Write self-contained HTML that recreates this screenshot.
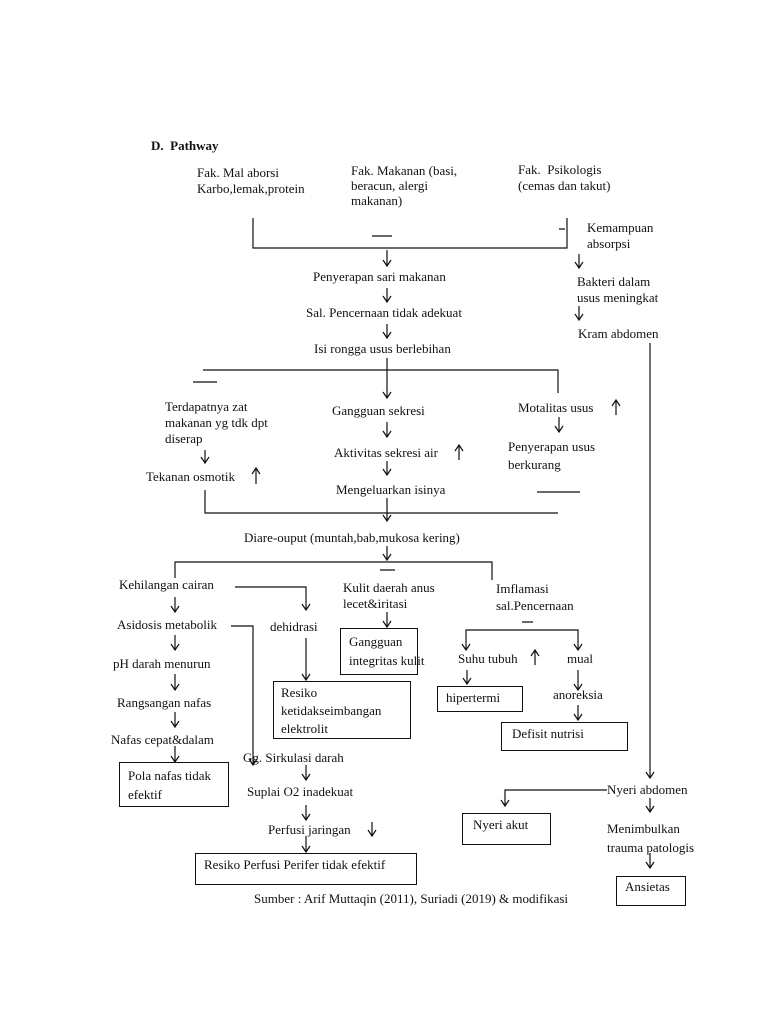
<!DOCTYPE html>
<html><head><meta charset="utf-8"><style>
body{margin:0;background:#fff;}
#c{position:relative;width:768px;height:1024px;overflow:hidden;font-family:"Liberation Serif",serif;font-size:13px;color:#111;}
.t{position:absolute;line-height:16px;white-space:nowrap;}
.b{position:absolute;border:1px solid #111;box-sizing:border-box;}
svg{position:absolute;left:0;top:0;}
</style></head><body><div id="c">
<svg width="768" height="1024" fill="none" stroke="#111" stroke-width="1.2">
<!-- top bracket -->
<path d="M253 218V248H567V218 M559 229H565 M372 236H392"/>
<path d="M387 250V266 M383 260L387 266L391 260"/>
<path d="M579 254V268 M575 262L579 268L583 262"/>
<path d="M579 306V320 M575 314L579 320L583 314"/>
<path d="M387 288V302 M383 296L387 302L391 296"/>
<path d="M387 324V338 M383 332L387 338L391 332"/>
<!-- second bracket -->
<path d="M203 370H558V393 M387 358V398 M383 392L387 398L391 392 M193 382H217"/>
<path d="M205 450V463 M201 457L205 463L209 457"/>
<path d="M256 484V468 M252 474L256 468L260 474"/>
<path d="M387 422V437 M383 431L387 437L391 431"/>
<path d="M459 460V445 M455 451L459 445L463 451"/>
<path d="M387 461V475 M383 469L387 475L391 469"/>
<path d="M616 415V400 M612 406L616 400L620 406"/>
<path d="M559 417V432 M555 426L559 432L563 426"/>
<path d="M537 492H580"/>
<path d="M205 490V513H558 M387 498V521 M383 515L387 521L391 515"/>
<!-- right long line -->
<path d="M650 343V778 M646 772L650 778L654 772"/>
<path d="M387 546V560 M383 554L387 560L391 554"/>
<path d="M175 578V562H492V580 M380 570H395"/>
<path d="M175 597V612 M171 606L175 612L179 606"/>
<path d="M235 587H306V610 M302 604L306 610L310 604"/>
<path d="M231 626H253V765 M249 759L253 765L257 759"/>
<path d="M175 635V650 M171 644L175 650L179 644"/>
<path d="M175 674V690 M171 684L175 690L179 684"/>
<path d="M175 712V727 M171 721L175 727L179 721"/>
<path d="M175 746V762 M171 756L175 762L179 756"/>
<path d="M306 638V680 M302 674L306 680L310 674"/>
<path d="M387 612V627 M383 621L387 627L391 621"/>
<path d="M522 622H533 M466 650V630H578V650 M462 644L466 650L470 644 M574 644L578 650L582 644"/>
<path d="M535 665V650 M531 656L535 650L539 656"/>
<path d="M467 670V684 M463 678L467 684L471 678"/>
<path d="M578 670V690 M574 684L578 690L582 684"/>
<path d="M578 705V720 M574 714L578 720L582 714"/>
<path d="M306 765V780 M302 774L306 780L310 774"/>
<path d="M306 805V820 M302 814L306 820L310 814"/>
<path d="M372 822V836 M368 830L372 836L376 830"/>
<path d="M306 836V852 M302 846L306 852L310 846"/>
<path d="M607 790H505V806 M501 800L505 806L509 800"/>
<path d="M650 798V812 M646 806L650 812L654 806"/>
<path d="M650 853V868 M646 862L650 868L654 862"/>
</svg>
<div class="t" style="left:151px;top:138px;font-weight:bold;">D.&nbsp; Pathway</div>
<div class="t" style="left:197px;top:165px;">Fak. Mal aborsi<br>Karbo,lemak,protein</div>
<div class="t" style="left:351px;top:163px;line-height:15px;">Fak. Makanan (basi,<br>beracun, alergi<br>makanan)</div>
<div class="t" style="left:518px;top:162px;">Fak.&nbsp; Psikologis<br>(cemas dan takut)</div>
<div class="t" style="left:587px;top:220px;">Kemampuan<br>absorpsi</div>
<div class="t" style="left:577px;top:274px;">Bakteri dalam<br>usus meningkat</div>
<div class="t" style="left:578px;top:326px;">Kram abdomen</div>
<div class="t" style="left:313px;top:269px;">Penyerapan sari makanan</div>
<div class="t" style="left:306px;top:305px;">Sal. Pencernaan tidak adekuat</div>
<div class="t" style="left:314px;top:341px;">Isi rongga usus berlebihan</div>
<div class="t" style="left:165px;top:399px;">Terdapatnya zat<br>makanan yg tdk dpt<br>diserap</div>
<div class="t" style="left:146px;top:469px;">Tekanan osmotik</div>
<div class="t" style="left:332px;top:403px;">Gangguan sekresi</div>
<div class="t" style="left:334px;top:445px;">Aktivitas sekresi air</div>
<div class="t" style="left:336px;top:482px;">Mengeluarkan isinya</div>
<div class="t" style="left:518px;top:400px;">Motalitas usus</div>
<div class="t" style="left:508px;top:438px;line-height:18px;">Penyerapan usus<br>berkurang</div>
<div class="t" style="left:244px;top:530px;">Diare-ouput (muntah,bab,mukosa kering)</div>
<div class="t" style="left:119px;top:577px;">Kehilangan cairan</div>
<div class="t" style="left:117px;top:617px;">Asidosis metabolik</div>
<div class="t" style="left:113px;top:656px;">pH darah menurun</div>
<div class="t" style="left:117px;top:695px;">Rangsangan nafas</div>
<div class="t" style="left:111px;top:732px;">Nafas cepat&amp;dalam</div>
<div class="b" style="left:119px;top:762px;width:110px;height:45px;"></div>
<div class="t" style="left:128px;top:766px;line-height:19px;">Pola nafas tidak<br>efektif</div>
<div class="t" style="left:270px;top:619px;">dehidrasi</div>
<div class="b" style="left:273px;top:681px;width:138px;height:58px;"></div>
<div class="t" style="left:281px;top:684px;line-height:18px;">Resiko<br>ketidakseimbangan<br>elektrolit</div>
<div class="t" style="left:343px;top:580px;">Kulit daerah anus<br>lecet&amp;iritasi</div>
<div class="b" style="left:340px;top:628px;width:78px;height:47px;"></div>
<div class="t" style="left:349px;top:632px;line-height:19px;">Gangguan<br>integritas kulit</div>
<div class="t" style="left:496px;top:580px;line-height:17px;">Imflamasi<br>sal.Pencernaan</div>
<div class="t" style="left:458px;top:651px;">Suhu tubuh</div>
<div class="t" style="left:567px;top:651px;">mual</div>
<div class="b" style="left:437px;top:686px;width:86px;height:26px;"></div>
<div class="t" style="left:446px;top:690px;">hipertermi</div>
<div class="t" style="left:553px;top:687px;">anoreksia</div>
<div class="b" style="left:501px;top:722px;width:127px;height:29px;"></div>
<div class="t" style="left:512px;top:726px;">Defisit nutrisi</div>
<div class="t" style="left:243px;top:750px;">Gg. Sirkulasi darah</div>
<div class="t" style="left:247px;top:784px;">Suplai O2 inadekuat</div>
<div class="t" style="left:268px;top:822px;">Perfusi jaringan</div>
<div class="b" style="left:195px;top:853px;width:222px;height:32px;"></div>
<div class="t" style="left:204px;top:857px;">Resiko Perfusi Perifer tidak efektif</div>
<div class="t" style="left:607px;top:782px;">Nyeri abdomen</div>
<div class="b" style="left:462px;top:813px;width:89px;height:32px;"></div>
<div class="t" style="left:473px;top:817px;">Nyeri akut</div>
<div class="t" style="left:607px;top:819px;line-height:19px;">Menimbulkan<br>trauma patologis</div>
<div class="b" style="left:616px;top:876px;width:70px;height:30px;"></div>
<div class="t" style="left:625px;top:879px;">Ansietas</div>
<div class="t" style="left:254px;top:891px;">Sumber : Arif Muttaqin (2011), Suriadi (2019) &amp; modifikasi</div>
</div></body></html>
